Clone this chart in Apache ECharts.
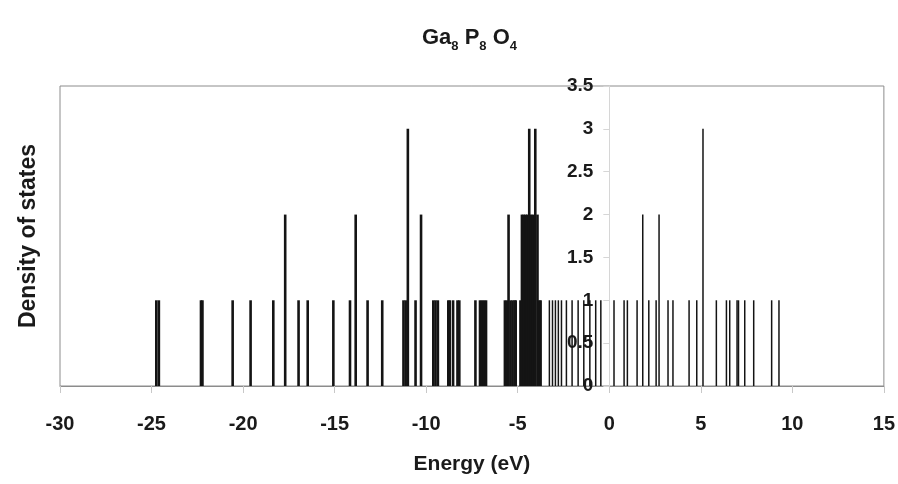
<!DOCTYPE html>
<html>
<head>
<meta charset="utf-8">
<script src="https://cdn.jsdelivr.net/npm/echarts@6/dist/echarts.min.js"></script>
<style>
  html, body { margin: 0; padding: 0; background: #fff; }
  #chart { width: 898px; height: 484px; }
</style>
</head>
<body>
<div id="chart"></div>
<script>
// Energy levels (eV) and their degeneracy, deep valence states
const deepEnergies = [
  -24.77, -24.63, -22.33, -22.25, -20.60, -19.62, -18.38, -17.73, -17.00, -16.50,
  -15.10, -14.19, -13.88, -13.23, -12.43,
  -11.27, -11.15, -11.03, -10.61, -10.31,
  -9.64, -9.52, -9.39, -8.82, -8.74, -8.56, -8.32, -8.22, -7.34,
  -7.09, -6.98, -6.87, -6.76,
  -5.73, -5.62, -5.53, -5.42, -5.31, -5.20, -5.14,
  -4.88, -4.80, -4.70, -4.60, -4.51, -4.40, -4.30, -4.20, -4.07, -3.95, -3.85, -3.78
];
const deepCounts = [
  1, 1, 1, 1, 1, 1, 1, 2, 1, 1,
  1, 1, 2, 1, 1,
  1, 1, 3, 1, 2,
  1, 1, 1, 1, 1, 1, 1, 1, 1,
  1, 1, 1, 1,
  1, 1, 2, 1, 1, 1, 1,
  1, 2, 2, 2, 2, 3, 2, 2, 3, 2, 1, 1
];

// Levels near the gap and in the conduction band
const upperEnergies = [
  -3.27, -3.10, -2.94, -2.78, -2.61, -2.34, -2.03, -1.70, -1.39, -1.06, -0.74, -0.46,
  0.26, 0.81, 0.99, 1.52, 1.83, 2.16, 2.56, 2.72, 3.21, 3.48, 4.36, 4.78, 5.12,
  5.85, 6.40, 6.58, 6.98, 7.06, 7.40, 7.89, 8.87, 9.27
];
const upperCounts = [
  1, 1, 1, 1, 1, 1, 1, 1, 1, 1, 1, 1,
  1, 1, 1, 1, 2, 1, 1, 2, 1, 1, 1, 1, 3,
  1, 1, 1, 1, 1, 1, 1, 1, 1
];

const energyTicks = { min: -30, max: 15, step: 5 };
const dosTicks = { min: 0, max: 3.5, step: 0.5 };

const pair = (xs, ys) => xs.map((x, i) => [x, ys[i]]);

const W = 898, H = 484;
const gridBox = { left: 60, right: 14, top: 86, bottom: 98 };
const plotWidth = W - gridBox.left - gridBox.right;
// the value axis is drawn through E = 0, so shift it right from the grid edge
const zeroShift = (0 - energyTicks.min) / (energyTicks.max - energyTicks.min) * plotWidth;

const chart = echarts.init(document.getElementById('chart'), null, { renderer: 'canvas' });
const fontFamily = '"Liberation Sans", Arial, sans-serif';
const ink = '#1a1a1a';

chart.setOption({
  backgroundColor: '#ffffff',
  animation: false,
  title: {
    left: 417,
    top: 18,
    text: '{b|Ga}{s|8}{b| P}{s|8}{b| O}{s|4}',
    textStyle: {
      rich: {
        b: { fontFamily, fontWeight: 'bold', fontSize: 22, color: ink, lineHeight: 30 },
        s: { fontFamily, fontWeight: 'bold', fontSize: 13, color: ink, lineHeight: 30, verticalAlign: 'bottom' }
      }
    }
  },
  graphic: [{
    type: 'text',
    x: 29,
    y: 236,
    rotation: Math.PI / 2,
    style: {
      text: 'Density of states',
      font: 'bold 23px "Liberation Sans", Arial, sans-serif',
      fill: ink,
      align: 'center',
      verticalAlign: 'middle'
    }
  }],
  grid: {
    left: gridBox.left, right: gridBox.right, top: gridBox.top, bottom: gridBox.bottom,
    show: true, borderColor: '#8c8c8c', borderWidth: 1, backgroundColor: '#fff'
  },
  xAxis: {
    type: 'value',
    min: energyTicks.min, max: energyTicks.max, interval: energyTicks.step,
    name: 'Energy (eV)',
    nameLocation: 'middle',
    nameGap: 68,
    nameTextStyle: { fontFamily, fontWeight: 'bold', fontSize: 21, color: ink },
    axisLine: { onZero: false, lineStyle: { color: '#8c8c8c', width: 1 } },
    axisTick: { show: true, length: 7, lineStyle: { color: '#c8c8c8' } },
    axisLabel: { margin: 28, fontFamily, fontWeight: 'bold', fontSize: 20, color: ink },
    splitLine: { show: false }
  },
  yAxis: {
    type: 'value',
    position: 'left',
    offset: -zeroShift,
    min: dosTicks.min, max: dosTicks.max, interval: dosTicks.step,
    axisLine: { show: true, onZero: false, lineStyle: { color: '#d6d6d6', width: 1 } },
    axisTick: { show: true, length: 6, lineStyle: { color: '#d6d6d6' } },
    axisLabel: { margin: 16, padding: [7, 0, 0, 0], fontFamily, fontWeight: 'bold', fontSize: 19, color: ink },
    splitLine: { show: false }
  },
  series: [
    {
      name: 'deep',
      type: 'bar',
      barWidth: 2.6,
      barGap: '-100%',
      itemStyle: { color: '#141414' },
      data: pair(deepEnergies, deepCounts)
    },
    {
      name: 'upper',
      type: 'bar',
      barWidth: 1.5,
      barGap: '-100%',
      itemStyle: { color: '#141414' },
      data: pair(upperEnergies, upperCounts)
    }
  ]
});
</script>
</body>
</html>
